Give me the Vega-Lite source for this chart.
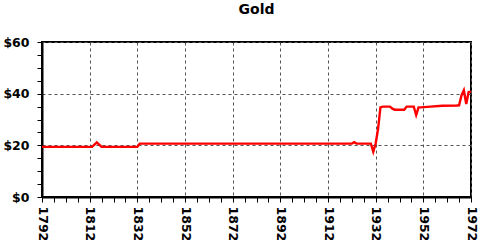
{
  "$schema": "https://vega.github.io/schema/vega-lite/v6.json",
  "autosize": "none",
  "width": 429,
  "height": 155,
  "padding": {"left": 42, "top": 42, "right": 9, "bottom": 43},
  "background": "white",
  "title": {"text": "Gold", "font": "DejaVu Sans", "fontWeight": "bold", "fontSize": 14, "color": "black", "offset": 19},
  "config": {
    "view": {"stroke": "black", "strokeWidth": 2},
    "axis": {
      "labelFont": "DejaVu Sans", "labelFontWeight": "bold", "labelFontSize": 12.5, "labelColor": "black",
      "domainColor": "black", "domainWidth": 2, "tickColor": "black", "tickSize": 5, "tickWidth": 1,
      "gridColor": "#555555", "gridDash": [3, 3], "gridWidth": 1, "title": null, "labelPadding": 3
    }
  },
  "data": {"values": [
    {"year": 1792, "price": 19.39},
    {"year": 1812, "price": 19.39},
    {"year": 1813, "price": 19.39},
    {"year": 1814, "price": 20.25},
    {"year": 1815, "price": 21.1},
    {"year": 1816, "price": 20.25},
    {"year": 1817, "price": 19.39},
    {"year": 1832, "price": 19.39},
    {"year": 1833, "price": 20.67},
    {"year": 1922, "price": 20.67},
    {"year": 1923, "price": 21.2},
    {"year": 1924, "price": 20.67},
    {"year": 1930, "price": 20.67},
    {"year": 1931, "price": 17.5},
    {"year": 1932, "price": 20.7},
    {"year": 1933, "price": 26.3},
    {"year": 1934, "price": 34.7},
    {"year": 1935, "price": 35.0},
    {"year": 1938, "price": 35.0},
    {"year": 1939, "price": 34.2},
    {"year": 1940, "price": 33.8},
    {"year": 1944, "price": 33.8},
    {"year": 1945, "price": 35.0},
    {"year": 1948, "price": 35.0},
    {"year": 1949, "price": 31.7},
    {"year": 1950, "price": 34.7},
    {"year": 1951, "price": 34.7},
    {"year": 1955, "price": 35.0},
    {"year": 1960, "price": 35.3},
    {"year": 1966, "price": 35.4},
    {"year": 1967, "price": 35.5},
    {"year": 1968, "price": 39.3},
    {"year": 1969, "price": 41.3},
    {"year": 1970, "price": 36.0},
    {"year": 1971, "price": 40.6},
    {"year": 1972, "price": 40.8}
  ]},
  "mark": {"type": "line", "color": "#ff0000", "strokeWidth": 2.4},
  "encoding": {
    "x": {
      "field": "year", "type": "quantitative",
      "scale": {"domain": [1792, 1972], "nice": false, "zero": false},
      "axis": {
        "values": [1792,1797,1802,1807,1812,1817,1822,1827,1832,1837,1842,1847,1852,1857,1862,1867,1872,1877,1882,1887,1892,1897,1902,1907,1912,1917,1922,1927,1932,1937,1942,1947,1952,1957,1962,1967,1972],
        "labelAngle": 90,
        "labelPadding": 4,
        "labelExpr": "(datum.value - 1792) % 20 == 0 ? '' + datum.value : ''",
        "gridOpacity": {"condition": {"test": "(datum.value - 1792) % 20 == 0", "value": 1}, "value": 0},
        "labelOverlap": false
      }
    },
    "y": {
      "field": "price", "type": "quantitative",
      "scale": {"domain": [0, 60], "nice": false},
      "axis": {
        "values": [0,5,10,15,20,25,30,35,40,45,50,55,60],
        "labelPadding": 8,
        "labelExpr": "datum.value % 20 == 0 ? '$' + datum.value : ''",
        "gridOpacity": {"condition": {"test": "datum.value % 20 == 0", "value": 1}, "value": 0},
        "labelOverlap": false
      }
    }
  }
}
